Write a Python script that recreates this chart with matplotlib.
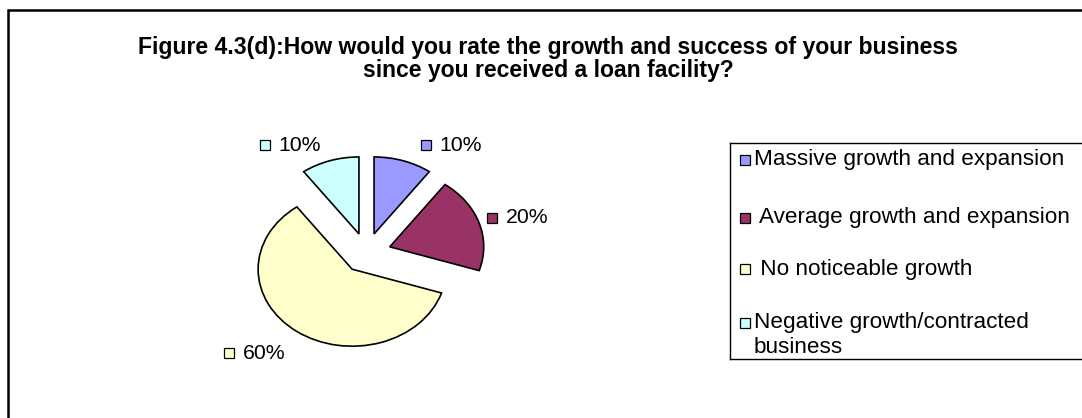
import matplotlib
matplotlib.use("Agg")
import matplotlib.pyplot as plt
from matplotlib.patches import Rectangle

plt.rcParams["font.family"] = ["Liberation Sans", "DejaVu Sans"]

# ── Data ────────────────────────────────────────────────────────────────────
categories = [
    "Massive growth and expansion",
    " Average growth and expansion",
    " No noticeable growth",
    "Negative growth/contracted\nbusiness",
]
responses = [10, 20, 60, 10]          # % of respondents
colors = ["#9999FF", "#993366", "#FFFFCC", "#CCFFFF"]
title = ("Figure 4.3(d):How would you rate the growth and success of your business\n"
         "since you received a loan facility?")

# ── Layout (pixels of the 1082x418 canvas) ──────────────────────────────────
W, H = 1082, 418
label_pos = [(0.633, 1.40), (1.34, 0.455), (-1.46, -1.30), (-1.08, 1.40)]  # pie data units
legend_marker_y = [17, 75, 126, 180]
legend_text_y = [17, 75, 126, 192]

fig = plt.figure(figsize=(W / 100, H / 100), dpi=100)

# outer chart frame (runs off the right/bottom edge like the original)
fig.patches.append(Rectangle((7.5 / W, -0.1), 1.2, 1.1 - 10 / H,
                             transform=fig.transFigure, fill=False,
                             lw=1.8, ec="black"))

fig.text(548 / W, 1 - 59 / H, title, ha="center", va="center",
         multialignment="center", fontsize=16.6, fontweight="bold",
         linespacing=1.0)

# ── Pie ─────────────────────────────────────────────────────────────────────
ax = fig.add_axes([225.5 / W, 49.5 / H, 282 / W, 231 / H])
wedges, _ = ax.pie(responses, colors=colors, startangle=90, counterclock=False,
                   explode=[0.26] * len(responses),
                   wedgeprops=dict(edgecolor="black", linewidth=1.2))
ax.set_aspect("auto")
ax.set_xlim(-1.5, 1.5)
ax.set_ylim(-1.5, 1.5)

total = sum(responses)
for v, c, (x, y) in zip(responses, colors, label_pos):
    ax.plot(x, y, marker="s", ms=7.8, mfc=c, mec="black", mew=0.9, clip_on=False)
    ax.annotate(f"{v / total * 100:.0f}%", (x, y), xytext=(9.5, 0),
                textcoords="offset points", ha="left", va="center",
                fontsize=15.3, annotation_clip=False)

# ── Legend ──────────────────────────────────────────────────────────────────
lax = fig.add_axes([730 / W, 59 / H, 380 / W, 216 / H])
lax.set_xlim(0, 380)
lax.set_ylim(216, 0)
lax.set_xticks([])
lax.set_yticks([])
for s in lax.spines.values():
    s.set_linewidth(1.0)
    s.set_color("black")

for lab, c, my, ty in zip(categories, colors, legend_marker_y, legend_text_y):
    lax.plot(15, my, marker="s", ms=7.8, mfc=c, mec="black", mew=0.9, clip_on=False)
    lax.text(24, ty, lab, ha="left", va="center", fontsize=16.2, linespacing=1.2)

fig.savefig("out.png", dpi=100)
